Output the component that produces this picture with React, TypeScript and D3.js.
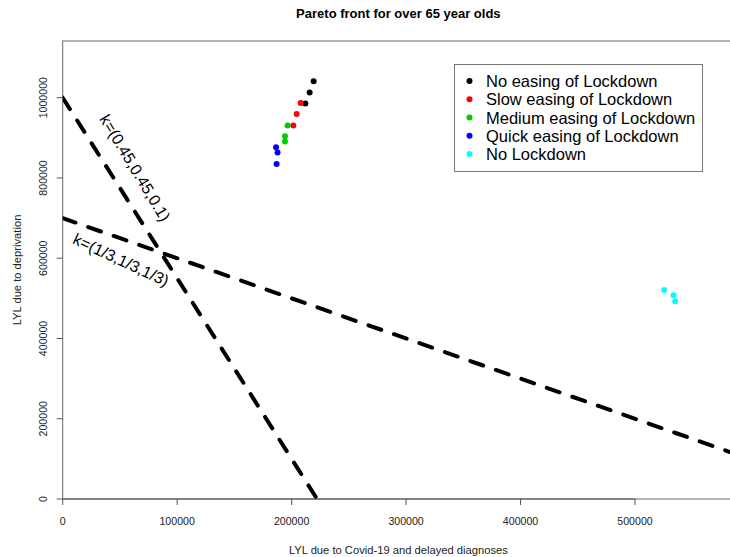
import React from "react";
import * as d3 from "d3";

const seriesNames = [
  "No easing of Lockdown",
  "Slow easing of Lockdown",
  "Medium easing of Lockdown",
  "Quick easing of Lockdown",
  "No Lockdown",
];
const seriesColors = ["#000000", "#ff0000", "#00cd00", "#0000ff", "#00ffff"];

// x: LYL due to Covid-19 and delayed diagnoses, y: LYL due to deprivation
const noEasingX = [219250, 215750, 212000];
const noEasingY = [1040750, 1013250, 985750];
const slowEasingX = [207900, 204400, 201500];
const slowEasingY = [986750, 959250, 930750];
const mediumEasingX = [196500, 194200, 194200];
const mediumEasingY = [930750, 904250, 890750];
const quickEasingX = [186400, 187700, 186900];
const quickEasingY = [876750, 863250, 835000];
const noLockdownX = [525500, 533700, 535100];
const noLockdownY = [520750, 507500, 492500];

const seriesX = [noEasingX, slowEasingX, mediumEasingX, quickEasingX, noLockdownX];
const seriesY = [noEasingY, slowEasingY, mediumEasingY, quickEasingY, noLockdownY];

const xTicks = [0, 100000, 200000, 300000, 400000, 500000];
const yTicks = [0, 200000, 400000, 600000, 800000, 1000000];

// Weighted-objective lines: y = intercept + slope * x
const lineIntercepts = [1000000, 700000];
const lineSlopes = [-4.5, -1];
const lineLabels = ["k=(0.45,0.45,0.1)", "k=(1/3,1/3,1/3)"];
const labelX = [63200, 50900];
const labelY = [824800, 595600];
const labelAngles = [59, 25];

const W = 730;
const H = 557;
const left = 62.7;
const right = 734;
const top = 41;
const bottom = 499;
const FONT = "'Liberation Sans', Arial, Helvetica, sans-serif";

export default function App() {
  const x = d3.scaleLinear().domain([0, 586500]).range([left, right]);
  const y = d3.scaleLinear().domain([0, 1141300]).range([bottom, top]);
  const xMax = x.domain()[1];
  const yMax = y.domain()[1];

  const lineSegs = lineIntercepts.map((b, i) => {
    const m = lineSlopes[i];
    const xZero = -b / m;
    const x1 = Math.min(xZero, xMax);
    const y1 = b + m * x1;
    return { x0: 0, y0: Math.min(b, yMax), x1, y1 };
  });

  return (
    <svg width={W} height={H} style={{ position: "absolute", left: 0, top: 0, background: "#fff" }}>
      <rect x={0} y={0} width={W} height={H} fill="#fff" />
      <defs>
        <clipPath id="plotclip">
          <rect x={left} y={top} width={right - left} height={bottom - top} />
        </clipPath>
      </defs>
      <text x={(left + right) / 2} y={18} textAnchor="middle" fontFamily={FONT} fontWeight="bold" fontSize={13}>
        Pareto front for over 65 year olds
      </text>
      <rect x={left} y={top} width={right - left} height={bottom - top} fill="none" stroke="#666" strokeWidth={1} />
      <line x1={x(xTicks[0])} x2={x(xTicks[xTicks.length - 1])} y1={bottom} y2={bottom} stroke="#555" />
      {xTicks.map((t) => (
        <g key={"xt" + t}>
          <line x1={x(t)} x2={x(t)} y1={bottom} y2={bottom + 6} stroke="#555" />
          <text x={x(t)} y={524.5} textAnchor="middle" fontFamily={FONT} fontSize={10.6} fill="#222">
            {t}
          </text>
        </g>
      ))}
      {yTicks.map((t) => (
        <g key={"yt" + t}>
          <line x1={left - 6} x2={left} y1={y(t)} y2={y(t)} stroke="#555" />
          <text
            transform={`translate(46.5,${y(t)}) rotate(-90)`}
            textAnchor="middle"
            fontFamily={FONT}
            fontSize={10.6}
            fill="#222"
          >
            {t}
          </text>
        </g>
      ))}
      <text x={(left + right) / 2} y={554} textAnchor="middle" fontFamily={FONT} fontSize={11.2} fill="#222">
        LYL due to Covid-19 and delayed diagnoses
      </text>
      <text
        transform={`translate(21,${(top + bottom) / 2}) rotate(-90)`}
        textAnchor="middle"
        fontFamily={FONT}
        fontSize={11.2}
        fill="#222"
      >
        LYL due to deprivation
      </text>
      <g clipPath="url(#plotclip)">
        {lineSegs.map((s, i) => (
          <line
            key={"l" + i}
            x1={x(s.x0)}
            y1={y(s.y0)}
            x2={x(s.x1)}
            y2={y(s.y1)}
            stroke="#000"
            strokeWidth={4}
            strokeDasharray="13.5 13.5"
            strokeLinecap="round"
          />
        ))}
      </g>
      {lineLabels.map((lab, i) => (
        <text
          key={"lab" + i}
          transform={`translate(${x(labelX[i])},${y(labelY[i])}) rotate(${labelAngles[i]})`}
          textAnchor="middle"
          dominantBaseline="central"
          fontFamily={FONT}
          fontSize={16}
        >
          {lab}
        </text>
      ))}
      {seriesX.map((xs, si) =>
        xs.map((xv, j) => (
          <circle key={`p${si}-${j}`} cx={x(xv)} cy={y(seriesY[si][j])} r={3} fill={seriesColors[si]} />
        ))
      )}
      <rect x={454.5} y={64.5} width={248} height={107} fill="#fff" stroke="#777" strokeWidth={1} />
      {seriesNames.map((n, i) => (
        <g key={"lg" + i}>
          <circle cx={469.5} cy={81 + i * 18.25} r={3} fill={seriesColors[i]} />
          <text x={486} y={81 + i * 18.25} dominantBaseline="central" fontFamily={FONT} fontSize={16.5}>
            {n}
          </text>
        </g>
      ))}
    </svg>
  );
}
